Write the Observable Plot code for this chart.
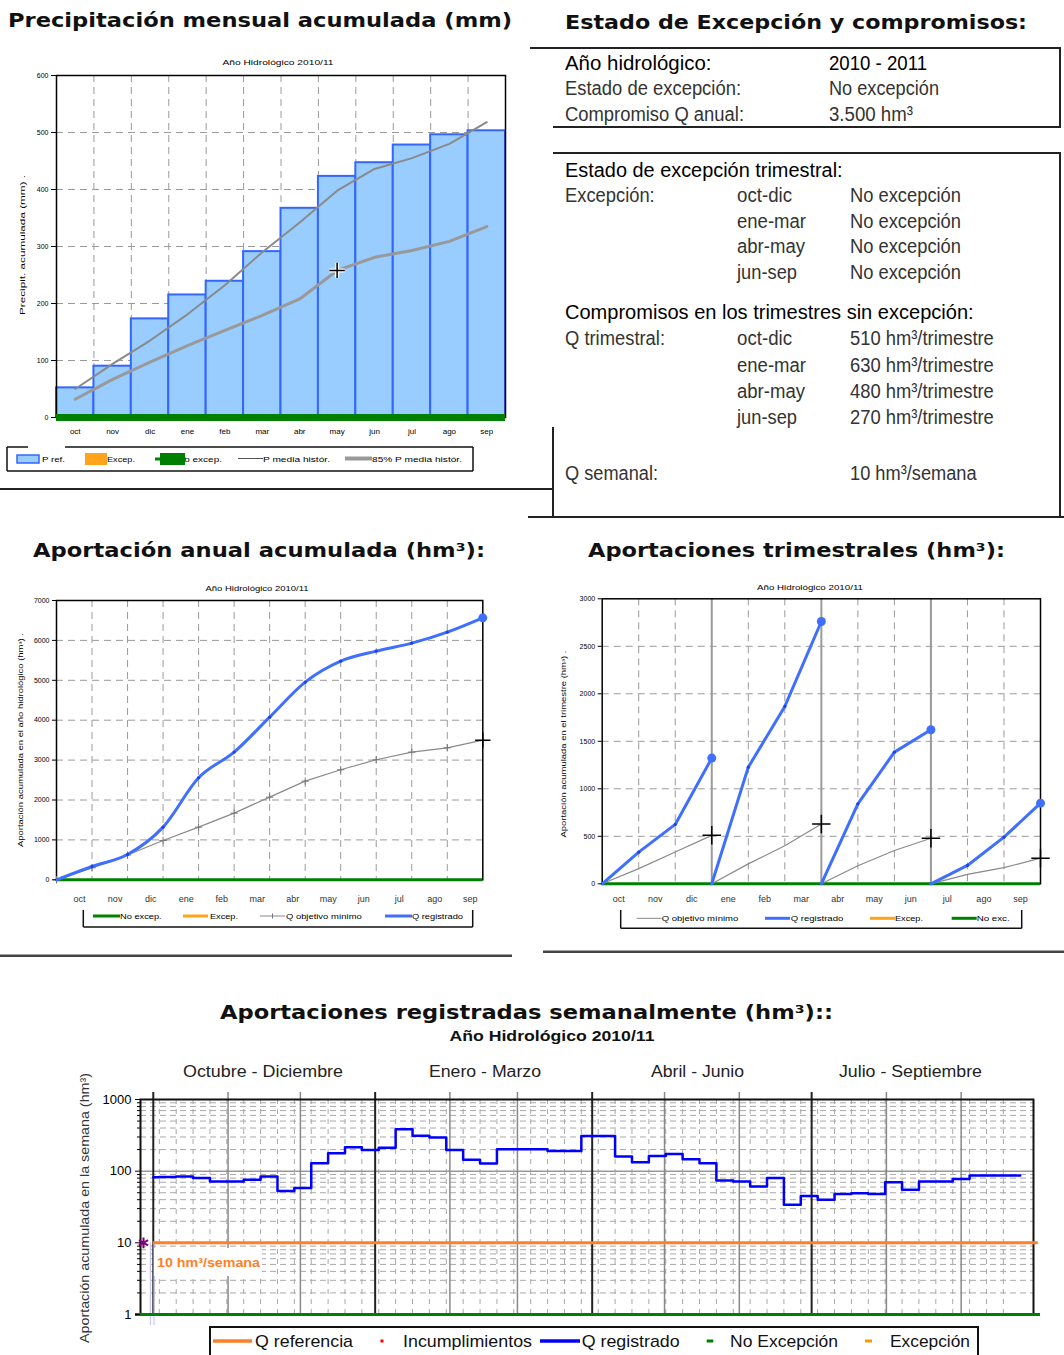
<!DOCTYPE html>
<html><head><meta charset="utf-8">
<script src="https://cdn.jsdelivr.net/npm/d3@7"></script>
<script src="https://cdn.jsdelivr.net/npm/@observablehq/plot@0.6"></script>
<style>
html,body{margin:0;padding:0;background:#fff;}
#page{position:relative;width:1064px;height:1355px;overflow:hidden;background:#fff;}
</style></head><body><div id="page"></div>
<script>
// ---------- DATA ----------
const months = ["oct","nov","dic","ene","feb","mar","abr","may","jun","jul","ago","sep"];
const precipRef = [52,90,173,215,239,291,367,423,447,478,496,503];
const precipMedia = [50,94,135,181,232,290,342,398,436,455,480,518];
const precip85 = [32,67,97,126,153,179,208,258,281,293,309,335];
const precipTicks = [0,100,200,300,400,500,600];

const anualRegistrado = [0,334,635,1320,2556,3200,4077,4954,5480,5731,5931,6207,6566];
const anualObjetivo = [0,300,620,986,1320,1671,2072,2473,2757,3008,3200,3308,3500];
const anualTicks = [0,1000,2000,3000,4000,5000,6000,7000];

const trimRegistrado = [[0,333,625,1323],[0,1228,1867,2761],[0,842,1386,1621],[0,193,491,849]];
const trimObjetivo = [[0,160,335,510],[0,210,400,630],[0,190,350,480],[0,100,170,270]];
const trimTicks = [0,500,1000,1500,2000,2500,3000];

const semanal = [82,83,84,80,72,72,76,84,53,58,129,178,215,198,213,383,313,294,198,144,128,202,202,202,191,191,310,310,160,133,163,174,147,129,74,72,61,80,34,45,40,48,49,48,70,55,72,72,78,87,87,87];
const qReferencia = 10;
const semTicks = [1,10,100,1000];
const monthStartDays = [0,31,61,92,123,151,182,212,243,273,304,335,365];
const quarterStartDays = [0,92,182,273];
const quarterNames = ["Octubre - Diciembre","Enero - Marzo","Abril - Junio","Julio - Septiembre"];

// ---------- HELPERS ----------
const page = document.getElementById("page");
function place(svg, left, top, w){
  const d = document.createElement("div");
  d.style.cssText = `position:absolute;left:${left}px;top:${top}px;width:${w}px;`;
  d.appendChild(svg); page.appendChild(d);
}
const baseStyle = {fontFamily:"'Liberation Sans', Arial, sans-serif", color:"#000", background:"transparent", overflow:"visible"};
const dash = {stroke:"#9a9a9a", strokeDasharray:"7,5", strokeWidth:1};
const BLUE = "#3f6fff";
const fmt = d => String(d);

// ---------- CHART 1: precipitación ----------
const precipRows = months.map((m,i)=>({m, i, ref:precipRef[i], media:precipMedia[i], p85:precip85[i]}));
const mayRow = precipRows.filter(d=>d.m==="may");
const c1 = Plot.plot({
  width:520, height:400, marginLeft:56, marginRight:15, marginTop:25, marginBottom:33,
  style:{...baseStyle, fontSize:"7px"},
  x:{domain:[0,12], axis:null}, y:{domain:[0,600], axis:null},
  marks:[
    Plot.ruleY(precipTicks.slice(1,-1), dash),
    Plot.ruleX(d3.range(1,12), dash),
    Plot.rect(precipRows, {x1:"i", x2:d=>d.i+1, y1:0, y2:"ref", fill:"#99ccff", stroke:"#3366ff", strokeWidth:2}),
    Plot.line(precipRows, {x:d=>d.i+0.5, y:"media", stroke:"#8a8a8a", strokeWidth:2}),
    Plot.line(precipRows, {x:d=>d.i+0.5, y:"p85", stroke:"#999", strokeWidth:3}),
    Plot.dot(mayRow, {x:d=>d.i+0.5, y:"p85", symbol:"plus", r:5, stroke:"#fff", strokeWidth:4}),
    Plot.dot(mayRow, {x:d=>d.i+0.5, y:"p85", symbol:"plus", r:5, stroke:"#000", strokeWidth:1.5}),
    Plot.frame({stroke:"#000", strokeWidth:1.5}),
    Plot.ruleY([0], {stroke:"#008000", strokeWidth:7}),
    Plot.axisY({ticks:precipTicks, tickFormat:fmt, tickSize:5, tickPadding:3, fontSize:7, label:null}),
    Plot.text(precipRows, {x:d=>d.i+0.5, text:"m", frameAnchor:"bottom", dy:16, fontSize:8})
  ]
});
place(c1, 0, 50, 520);

// ---------- CHART 2: anual ----------
const anualRows = anualRegistrado.map((v,i)=>({i, reg:v, obj:anualObjetivo[i]}));
const anualLast = [anualRows[anualRows.length-1]];
const c2 = Plot.plot({
  width:520, height:335, marginLeft:56, marginRight:37.7, marginTop:25, marginBottom:30.7,
  style:{...baseStyle, fontSize:"7px"},
  x:{domain:[0,12], axis:null}, y:{domain:[0,7000], axis:null},
  marks:[
    Plot.ruleY(anualTicks.slice(1,-1), dash),
    Plot.ruleX(d3.range(1,12), dash),
    Plot.frame({stroke:"#000", strokeWidth:1.5}),
    Plot.ruleY([0], {stroke:"#008000", strokeWidth:3}),
    Plot.line(anualRows, {x:"i", y:"obj", stroke:"#8a8a8a", strokeWidth:1.2}),
    Plot.dot(anualRows.slice(0,-1), {x:"i", y:"obj", symbol:"plus", r:2.5, stroke:"#777", strokeWidth:1}),
    Plot.line(anualRows, {x:"i", y:"reg", stroke:BLUE, strokeWidth:3, curve:"monotone-x"}),
    Plot.dot(anualRows.slice(1,-1), {x:"i", y:"reg", r:1.6, fill:"#2040ee"}),
    Plot.dot(anualLast, {x:"i", y:"reg", r:4.5, fill:BLUE}),
    Plot.dot(anualLast, {x:"i", y:"obj", symbol:"plus", r:5, stroke:"#000", strokeWidth:1.5}),
    Plot.axisY({ticks:anualTicks, tickFormat:fmt, tickSize:4, tickPadding:3, fontSize:7, label:null}),
    Plot.text(months, {x:(d,i)=>i+0.65, text:d=>d, frameAnchor:"bottom", dy:22, fontSize:9, fill:"#333"})
  ]
});
place(c2, 0, 575, 520);

// ---------- CHART 3: trimestral ----------
const trimRows = trimRegistrado.flatMap((q,qi)=>q.map((v,j)=>({q:qi, j, x:3*qi+j, reg:v, obj:trimObjetivo[qi][j]})));
const trimEnds = trimRows.filter(d=>d.j===3);
const c3 = Plot.plot({
  width:524, height:335, marginLeft:61.7, marginRight:24, marginTop:23.3, marginBottom:26.7,
  style:{...baseStyle, fontSize:"7px"},
  x:{domain:[0,12], axis:null}, y:{domain:[0,3000], axis:null},
  marks:[
    Plot.ruleY(trimTicks.slice(1,-1), dash),
    Plot.ruleX(d3.range(1,12).filter(i=>i%3), dash),
    Plot.ruleX([3,6,9], {stroke:"#9a9a9a", strokeWidth:2}),
    Plot.frame({stroke:"#000", strokeWidth:1.5}),
    Plot.ruleY([0], {stroke:"#008000", strokeWidth:3}),
    Plot.line(trimRows, {x:"x", y:"obj", z:"q", stroke:"#8a8a8a", strokeWidth:1.2}),
    Plot.line(trimRows, {x:"x", y:"reg", z:"q", stroke:BLUE, strokeWidth:3}),
    Plot.dot(trimRows.filter(d=>d.j===1||d.j===2), {x:"x", y:"reg", r:1.6, fill:"#2040ee"}),
    Plot.dot(trimEnds, {x:"x", y:"reg", r:4.5, fill:BLUE}),
    Plot.dot(trimEnds, {x:"x", y:"obj", symbol:"plus", r:6, stroke:"#000", strokeWidth:1.5}),
    Plot.axisY({ticks:trimTicks, tickFormat:fmt, tickSize:4, tickPadding:3, fontSize:7, label:null}),
    Plot.text(months, {x:(d,i)=>i+0.45, text:d=>d, frameAnchor:"bottom", dy:18, fontSize:9, fill:"#333"})
  ]
});
place(c3, 540, 575, 524);

// ---------- CHART 4: semanal ----------
const weekStarts = semanal.map((v,i)=> i===0 ? 0 : 2.5 + 7*(i-1));
const semRows = semanal.map((v,i)=>({d:weekStarts[i], v}));
semRows.push({d:weekStarts[weekStarts.length-1]+7, v:semanal[semanal.length-1]});
const minors = [1,10,100].flatMap(k=>d3.range(2,10).map(m=>m*k));
const c4 = Plot.plot({
  width:1004, height:245, marginLeft:80, marginRight:31, marginTop:14, marginBottom:16,
  style:{...baseStyle, fontSize:"13px"},
  x:{domain:[-5.3,365], axis:null}, y:{type:"log", domain:[1,1000], axis:null},
  marks:[
    Plot.ruleY(minors, {stroke:"#a8a8a8", strokeDasharray:"6,4", strokeWidth:1}),
    Plot.ruleX(weekStarts.slice(1), {stroke:"#a8a8a8", strokeDasharray:"5,5", strokeWidth:1}),
    Plot.ruleY([100], {stroke:"#999", strokeWidth:1.5}),
    Plot.ruleX(monthStartDays.filter(d=>!quarterStartDays.includes(d) && d<365), {stroke:"#888", strokeWidth:1.5, insetTop:-7}),
    Plot.ruleX(quarterStartDays, {stroke:"#222", strokeWidth:2, insetTop:-7}),
    Plot.frame({stroke:"#111", strokeWidth:2}),
    Plot.ruleX([-1.2, 0.3], {y1:qReferencia, y2:1, insetBottom:-11, stroke:"#c8c8ff", strokeWidth:1.2}),
    Plot.ruleY([1], {stroke:"#008000", strokeWidth:3, insetLeft:-5, insetRight:-7}),
    Plot.ruleY([qReferencia], {x1:0, x2:367, stroke:"#ff7f27", strokeWidth:3}),
    Plot.line(semRows, {x:"d", y:"v", curve:"step-after", stroke:"#0000ff", strokeWidth:2.5}),
    Plot.dot([qReferencia], {y:d=>d, frameAnchor:"left", dx:3, symbol:"asterisk", r:5, stroke:"#800080", strokeWidth:2}),
    Plot.axisY({ticks:semTicks, tickFormat:fmt, tickSize:5, tickPadding:4, fontSize:13, label:null}),
    Plot.axisY({ticks:minors, tickFormat:()=>"", tickSize:3, label:null})
  ]
});
place(c4, 60, 1085, 1004);

// ---------- OVERLAY (titles, legends, panel) ----------
const NS = "http://www.w3.org/2000/svg";
const ov = document.createElementNS(NS,"svg");
ov.setAttribute("width",1064); ov.setAttribute("height",1355);
ov.style.cssText = "position:absolute;left:0;top:0;pointer-events:none;";
page.appendChild(ov);
function el(tag, attrs){ const e=document.createElementNS(NS,tag); for(const k in attrs) e.setAttribute(k, attrs[k]); ov.appendChild(e); return e; }
function txt(x,y,s,o={}){
  const e = el("text",{x, y, "font-family":o.family||"'Liberation Sans', Arial, sans-serif", "font-size":o.size||12,
    "font-weight":o.weight||"normal", fill:o.fill||"#111", "text-anchor":o.anchor||"start", "dominant-baseline":"central"});
  if(o.len){ e.setAttribute("textLength",o.len); e.setAttribute("lengthAdjust","spacingAndGlyphs"); }
  if(o.rotate){ e.setAttribute("transform",`rotate(-90 ${x} ${y})`); }
  e.textContent = s; return e;
}
function ln(x1,y1,x2,y2,stroke="#111",w=2){ return el("line",{x1,y1,x2,y2,stroke,"stroke-width":w}); }
function rc(x,y,w,h,fill,stroke,sw=1){ return el("rect",{x,y,width:w,height:h,fill,stroke:stroke||"none","stroke-width":sw}); }

const TF = "'DejaVu Sans', Verdana, sans-serif";
// main titles
txt(8,20,"Precipitación mensual acumulada (mm)",{family:TF,size:19,weight:"bold",len:504,fill:"#111"});
txt(565,22,"Estado de Excepción y compromisos:",{family:TF,size:19,weight:"bold",len:462,fill:"#111"});
txt(33,550,"Aportación anual acumulada (hm³):",{family:TF,size:19,weight:"bold",len:452,fill:"#111"});
txt(588,550,"Aportaciones trimestrales (hm³):",{family:TF,size:19,weight:"bold",len:417,fill:"#111"});
txt(220,1012,"Aportaciones registradas semanalmente (hm³)::",{family:TF,size:19,weight:"bold",len:613,fill:"#111"});

// mini titles
txt(278,62,"Año Hidrológico 2010/11",{size:8,anchor:"middle",len:111,fill:"#000"});
txt(257,588,"Año Hidrológico 2010/11",{size:8,anchor:"middle",len:103,fill:"#000"});
txt(810,587,"Año Hidrológico 2010/11",{size:8,anchor:"middle",len:106,fill:"#000"});
txt(552,1035,"Año Hidrológico 2010/11",{size:15,weight:"bold",anchor:"middle",len:205,fill:"#111"});

// y labels
txt(22,245,"Precipit. acumulada (mm) .",{size:8,anchor:"middle",len:140,rotate:true,fill:"#000"});
txt(20,740,"Aportación acumulada en el año hidrológico (hm³) .",{size:7,anchor:"middle",len:214,rotate:true,fill:"#000"});
txt(563,744,"Aportación acumulada en el trimestre (hm³) .",{size:7,anchor:"middle",len:187,rotate:true,fill:"#000"});
txt(84,1208,"Aportación acumulada en la semana (hm³)",{size:13,anchor:"middle",len:270,rotate:true,fill:"#333"});

// quarter labels (weekly chart)
const qCenters = [263,485,697.5,910.5], qLens = [160,112,93,143];
quarterNames.forEach((q,i)=>txt(qCenters[i],1071,q,{size:16,anchor:"middle",len:qLens[i],fill:"#222"}));

// "10 hm3/semana" label
rc(154,1248,108,28,"#fff");
txt(157,1263,"10 hm³/semana",{size:12,weight:"bold",fill:"#ff7f27",len:103});

// chart 1 legend
ln(7,447,28,447,"#111",1.5); ln(65,447,473,447,"#111",1.5);
ln(7,447,7,471,"#111",1.5); ln(7,471,473,471,"#111",1.5); ln(473,447,473,471,"#111",1.5);
rc(17,455,22,8,"#99ccff","#3366ff",1.5);
txt(42,459,"P ref.",{size:8,len:23,fill:"#000"});
rc(85,453,22,12,"#ffa31a");
txt(107,459,"Excep.",{size:8,len:28,fill:"#000"});
txt(177,459,"No excep.",{size:8,len:45,fill:"#000"});
ln(155,459,186,459,"#008000",3); rc(160,453,25,12,"#008000");
ln(238,458.5,263,458.5,"#555",1);
txt(263,459,"P media histór.",{size:8,len:67,fill:"#000"});
ln(345,458.5,372,458.5,"#999",4);
txt(372,459,"85% P media histór.",{size:8,len:90,fill:"#000"});

// chart 2 legend
ln(83.3,910,83.3,927,"#111",1.5); ln(83.3,927,472.7,927,"#111",1.5); ln(472.7,910,472.7,927,"#111",1.5);
ln(93,916,120,916,"#008000",3); txt(120,916,"No excep.",{size:7.5,len:41.7,fill:"#000"});
ln(183,916,208,916,"#ffa31a",3); txt(210,916,"Excep.",{size:7.5,len:28,fill:"#000"});
ln(260,916,285,916,"#888",1); ln(272.5,913.5,272.5,918.5,"#777",1);
txt(286,916,"Q objetivo mínimo",{size:7.5,len:75.7,fill:"#000"});
ln(385,916,412,916,BLUE,3); txt(412,916,"Q registrado",{size:7.5,len:51,fill:"#000"});

// chart 3 legend
ln(620.7,910,620.7,928.3,"#111",1.5); ln(620.7,928.3,1021.7,928.3,"#111",1.5); ln(1021.7,910,1021.7,928.3,"#111",1.5);
ln(636.7,918.3,661.7,918.3,"#888",1); txt(661.7,918,"Q objetivo mínimo",{size:7.5,len:76.6,fill:"#000"});
ln(765,918.3,790,918.3,BLUE,3); txt(790.7,918,"Q registrado",{size:7.5,len:52.6,fill:"#000"});
ln(870,918.3,895,918.3,"#ffa31a",3); txt(895,918,"Excep.",{size:7.5,len:28,fill:"#000"});
ln(951.7,918.3,976.7,918.3,"#008000",3); txt(976.7,918,"No exc.",{size:7.5,len:33,fill:"#000"});

// bottom legend
rc(210,1327,768,40,"#fff","#111",2);
ln(213,1341,252,1341,"#ff7f27",3.5); txt(255,1341,"Q referencia",{size:17,len:98});
rc(380.5,1339.5,3,3,"#ff0000"); txt(403,1341,"Incumplimientos",{size:17,len:129});
ln(540,1341,580,1341,"#0000ff",3.5); txt(581.7,1341,"Q registrado",{size:17,len:98});
rc(706.7,1339.5,6.6,3,"#008000"); txt(730,1341,"No Excepción",{size:17,len:108});
rc(865,1339.5,7,3,"#ff9900"); txt(890,1341,"Excepción",{size:17,len:80});

// separators / panel frames
ln(0,489,553,489,"#222",2);
ln(553,427,553,517,"#222",2);
ln(0,955.7,512,955.7,"#444",2.5);
ln(543,951.7,1064,951.7,"#444",2.5);
ln(530,48,1061,48,"#222",2); ln(1060,48,1060,127,"#222",2); ln(553,127,1061,127,"#222",2);
ln(553,153,1061,153,"#222",2); ln(1060,153,1060,517,"#222",2); ln(528,517,1064,517,"#222",2);

// panel text
const H = {size:20, fill:"#000"}, R = {size:20, fill:"#333"};
const c1x = 565, c2x = 737, c3x = 850, cvx = 829;
txt(c1x,63,"Año hidrológico:",{...H,len:146.5}); txt(cvx,63,"2010 - 2011",{...H,len:98});
txt(c1x,88.4,"Estado de excepción:",{...R,len:176}); txt(cvx,88.4,"No excepción",{...R,len:110});
txt(c1x,113.8,"Compromiso Q anual:",{...R,len:179}); txt(cvx,113.8,"3.500 hm³",{...R,len:84});
txt(c1x,169.7,"Estado de excepción trimestral:",{...H,len:277.6});
txt(c1x,195,"Excepción:",{...R,len:89.7});
const trimLabels = ["oct-dic","ene-mar","abr-may","jun-sep"], trimLens = [55,69,68,60];
const estadoTrim = ["No excepción","No excepción","No excepción","No excepción"];
const rowsA = [195,220.6,246,272.4];
trimLabels.forEach((t,i)=>{ txt(c2x,rowsA[i],t,{...R,len:trimLens[i]}); txt(c3x,rowsA[i],estadoTrim[i],{...R,len:111}); });
txt(c1x,312,"Compromisos en los trimestres sin excepción:",{...H,len:408.6});
txt(c1x,337.5,"Q trimestral:",{...R,len:100});
const compTrim = ["510 hm³/trimestre","630 hm³/trimestre","480 hm³/trimestre","270 hm³/trimestre"];
const rowsB = [337.5,364.6,391,416.5];
trimLabels.forEach((t,i)=>{ txt(c2x,rowsB[i],t,{...R,len:trimLens[i]}); txt(c3x,rowsB[i],compTrim[i],{...R,len:143.8}); });
txt(c1x,473,"Q semanal:",{...R,len:93}); txt(c3x,473,"10 hm³/semana",{...R,len:126.6});
</script></body></html>
